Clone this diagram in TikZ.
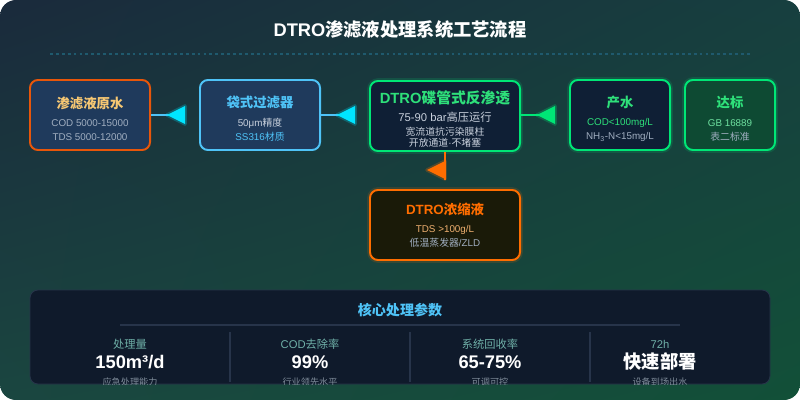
\documentclass[tikz,border=0pt]{standalone}
\usepackage{fontspec}
\setmainfont{Liberation Sans}
\newfontfamily\cjkfont{Noto Sans CJK SC}
\usetikzlibrary{positioning, calc, backgrounds, shadings}

% Han characters switch to the CJK family on their own
\XeTeXinterchartokenstate=1
\newXeTeXintercharclass\cjkclass
\count255="3000
\loop
  \XeTeXcharclass\count255=\cjkclass
  \advance\count255 by 1
\ifnum\count255<"A000 \repeat
\XeTeXinterchartoks 0 \cjkclass = {\begingroup\cjkfont}
\XeTeXinterchartoks 4095 \cjkclass = {\begingroup\cjkfont}
\XeTeXinterchartoks \cjkclass 0 = {\endgroup}
\XeTeXinterchartoks \cjkclass 4095 = {\endgroup}

\definecolor{bgTL}{HTML}{1A2A3C}
\definecolor{bgTR}{HTML}{173F3F}
\definecolor{bgBL}{HTML}{1A4640}
\definecolor{bgBR}{HTML}{125038}
\definecolor{dotline}{HTML}{1F5A6E}
\definecolor{orangeA}{HTML}{E8560A}
\definecolor{orangeB}{HTML}{FF6D00}
\definecolor{skyline}{HTML}{4FC3F7}
\definecolor{cyantip}{HTML}{00E5FF}
\definecolor{greenA}{HTML}{00E676}
\definecolor{greentxt}{HTML}{2EE07A}
\definecolor{navyfill}{HTML}{1F3A5C}
\definecolor{deepfill}{HTML}{0F1F35}
\definecolor{forestfill}{HTML}{0E4A33}
\definecolor{brownfill}{HTML}{1A1A08}
\definecolor{goldtxt}{HTML}{F7C873}
\definecolor{muted}{HTML}{A0AEC0}
\definecolor{paletxt}{HTML}{C8D0DC}
\definecolor{mintxt}{HTML}{6EE0A0}
\definecolor{peachtxt}{HTML}{F0B070}
\definecolor{panelfill}{HTML}{0F1A2B}
\definecolor{panelline}{HTML}{27344A}
\definecolor{tealtxt}{HTML}{6FB0A8}
\definecolor{greytxt}{HTML}{7F8C9A}

% left-pointing marker with a soft glow, #1 = base point, #2 = colour
\newcommand{\tipmark}[2]{%
  \filldraw[#2, line width=2.5pt, line join=round, opacity=0.25] #1 ++(0,-9) -- ++(-18,9) -- ++(18,9) -- cycle;
  \fill[#2] #1 ++(0,-9) -- ++(-18,9) -- ++(18,9) -- cycle;}
\newcommand{\topgap}{\rule{0pt}{13.5pt}}

\begin{document}
\begin{tikzpicture}[
    x=0.025cm, y=-0.025cm,
    stage/.style={
        rectangle, draw, line width=1.4pt, rounded corners=0.2cm, minimum height=1.75cm,
        align=center, inner sep=2pt, font=\fontsize{7}{10}\selectfont
    },
    glow/.style={preaction={draw=#1, line width=4pt, opacity=0.15}},
    link/.style={line width=1.4pt},
    param/.style={font=\fontsize{8}{10}\selectfont, text=tealtxt},
    value/.style={font=\fontsize{13}{15}\selectfont\bfseries, text=white},
    note/.style={font=\fontsize{6.5}{8}\selectfont, text=greytxt}
]

    % --- background ---
    \shade[rounded corners=0.4cm, upper left=bgTL, upper right=bgTR, lower left=bgBL, lower right=bgBR]
        (0,0) rectangle (800,400);

    \node [font=\fontsize{13}{15}\selectfont\bfseries, text=white] (title) at (400,30) {DTRO渗滤液处理系统工艺流程};
    \draw [dotline, line width=1.5pt, dash pattern=on 2pt off 2.2pt] (50,54) -- (750,54);

    % --- process stages ---
    \node [stage, draw=orangeA, fill=navyfill, minimum width=3cm] (raw) at (90,115)
        {{\topgap\fontsize{9.5}{12}\selectfont\bfseries\color{goldtxt}渗滤液原水}\\[3pt]
         {\color{muted}COD 5000-15000}\\{\color{muted}TDS 5000-12000}};
    \node [stage, draw=skyline, fill=navyfill, minimum width=3cm] (bag) at (260,115)
        {{\topgap\fontsize{9.5}{12}\selectfont\bfseries\color{skyline}袋式过滤器}\\[3pt]
         {\color{paletxt}50μm精度}\\{\color{skyline}SS316材质}};
    \node [stage, draw=greenA, fill=deepfill, glow=greenA, minimum width=3.75cm] (dtro) at (445,116)
        {{\topgap\fontsize{10.5}{12}\selectfont\bfseries\color{greentxt}DTRO碟管式反渗透}\\[3pt]
         {\fontsize{8}{10}\selectfont\color{paletxt}75-90 bar高压运行}\\
         {\color{paletxt}宽流道抗污染膜柱}\\[-2pt]{\color{paletxt}开放通道·不堵塞}};
    \node [stage, draw=greenA, fill=deepfill, glow=greenA, minimum width=2.5cm] (product) at (620,115)
        {{\topgap\fontsize{9.5}{12}\selectfont\bfseries\color{greentxt}产水}\\[3pt]
         {\color{greentxt}COD<100mg/L}\\{\color{muted}NH\textsubscript{3}-N<15mg/L}};
    \node [stage, draw=greenA, fill=forestfill, glow=greenA, minimum width=2.25cm] (standard) at (730,115)
        {{\topgap\fontsize{9.5}{12}\selectfont\bfseries\color{greentxt}达标}\\[3pt]
         {\color{mintxt}GB 16889}\\{\color{muted}表二标准}};
    \node [stage, draw=orangeB, fill=brownfill, glow=orangeB, minimum width=3.75cm] (brine) at (445,225)
        {{\fontsize{9.5}{12}\selectfont\bfseries\color{orangeB}DTRO浓缩液}\\[3pt]
         {\color{peachtxt}TDS >100g/L}\\{\color{muted}低温蒸发器/ZLD}};

    % --- connectors ---
    \coordinate (a1) at (185,115);
    \coordinate (a2) at (355,115);
    \coordinate (a3) at (555,115);
    \coordinate (a4) at (445,180);
    \draw [link, skyline] (raw.east) -- (a1);
    \draw [link, skyline] (bag.east) -- (a2);
    \draw [link, greenA] (dtro.east |- a3) -- (a3);
    \draw [link, orangeB] (dtro.south) -- (a4);
    \tipmark{(a1)}{cyantip}
    \tipmark{(a2)}{cyantip}
    \tipmark{(a3)}{greenA}
    \tipmark{($(a4)+(0,-10)$)}{orangeB}

    % --- key figures ---
    \path [fill=panelfill, draw=panelline, line width=0.6pt, rounded corners=0.2cm] (30,290) rectangle (770,384);
    \node [font=\fontsize{10}{12}\selectfont\bfseries, text=skyline] (figtitle) at (400,310) {核心处理参数};
    \draw [panelline, line width=1.5pt] (120,325) -- (680,325);
    \foreach \x in {230,410,590}
        \draw [panelline, line width=1.2pt] (\x,332) -- (\x,382);

    \node [param] (lbl1) at (130,344) {处理量};
    \node [param] (lbl2) at (310,344) {COD去除率};
    \node [param] (lbl3) at (490,344) {系统回收率};
    \node [param] (lbl4) at (660,344) {72h};
    \node [value] (val1) at (130,362) {150m³/d};
    \node [value] (val2) at (310,362) {99\%};
    \node [value] (val3) at (490,362) {65-75\%};
    \node [value] (val4) at (660,362) {快速部署};
    \begin{scope}
        \clip [rounded corners=0.2cm] (30,290) rectangle (770,384);
        \node [note] (sub1) at (130,382.5) {应急处理能力};
        \node [note] (sub2) at (310,382.5) {行业领先水平};
        \node [note] (sub3) at (490,382.5) {可调可控};
        \node [note] (sub4) at (660,382.5) {设备到场出水};
    \end{scope}

\end{tikzpicture}
\end{document}
